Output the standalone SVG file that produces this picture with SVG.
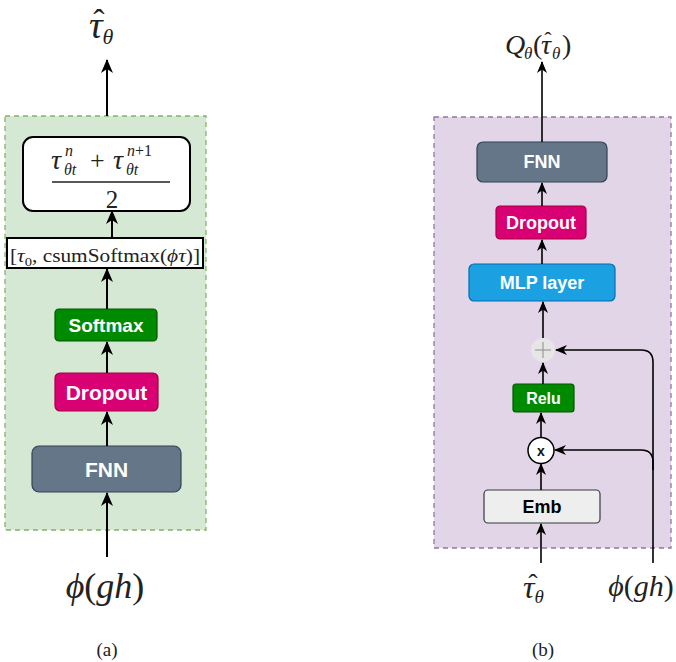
<svg xmlns="http://www.w3.org/2000/svg" width="676" height="662" viewBox="0 0 676 662">
<style>
.lbl{font-family:"Liberation Sans",Arial,sans-serif;font-weight:bold;fill:#ffffff;text-anchor:middle;dominant-baseline:central}
.m{font-family:"Liberation Serif","DejaVu Serif","Times New Roman",serif;font-style:italic;fill:#222}
.u{font-family:"Liberation Serif","DejaVu Serif","Times New Roman",serif;fill:#222}
.ln{stroke:#000;stroke-width:2;fill:none;marker-end:url(#ah)}
.ln2{stroke:#000;stroke-width:1.6;fill:none;marker-end:url(#ah2)}
</style>
<defs>
<marker id="ah" markerUnits="userSpaceOnUse" markerWidth="14" markerHeight="14" viewBox="0 0 14 14" refX="13" refY="7" orient="auto">
<path d="M0,1 L14,7 L0,13 L4,7 z" fill="#000"/>
</marker>
<marker id="ah2" markerUnits="userSpaceOnUse" markerWidth="12" markerHeight="12" viewBox="0 0 12 12" refX="11" refY="6" orient="auto">
<path d="M0,1 L12,6 L0,11 L3.5,6 z" fill="#000"/>
</marker>
</defs>

<!-- Panel (a) -->
<g id="containerA">
<rect x="5" y="116" width="201" height="414" fill="#d5e8d4" stroke="#82b366" stroke-width="1.3" stroke-dasharray="5,4"/>
</g>
<g id="titleA">
<text class="m" x="89" y="38" font-size="38">τ<tspan font-size="22" dy="6">θ</tspan></text>
<text class="u" x="99" y="33" font-size="34" text-anchor="middle">ˆ</text>
</g>
<g id="fraction">
<rect x="23" y="137" width="167" height="74" rx="10" fill="#ffffff" stroke="#000" stroke-width="2"/>
<text class="m" font-size="28"><tspan x="51" y="169">τ</tspan><tspan x="65" y="156" font-size="16">n</tspan><tspan x="64" y="175" font-size="16">θt</tspan><tspan class="u" font-style="normal" x="90" y="169" font-size="26">+</tspan><tspan x="113" y="169">τ</tspan><tspan x="127" y="156" font-size="16">n<tspan class="u" font-style="normal">+1</tspan></tspan><tspan x="126" y="175" font-size="16">θt</tspan></text>
<line x1="52" y1="182" x2="170" y2="182" stroke="#222" stroke-width="1.5"/>
<text class="u" x="112" y="208" font-size="25" text-anchor="middle">2</text>
</g>
<g id="bracket">
<rect x="7" y="238" width="196" height="30" fill="#ffffff" stroke="#000" stroke-width="2"/>
<text class="u" x="10" y="262" font-size="19" textLength="190" lengthAdjust="spacingAndGlyphs">[<tspan class="m">τ</tspan><tspan font-size="13" dy="4">0</tspan><tspan dy="-4">, csumSoftmax(</tspan><tspan class="m">ϕτ</tspan>)]</text>
</g>
<g id="softmaxA">
<rect x="55" y="309" width="102" height="32" rx="4" fill="#008a00" stroke="#005700" stroke-width="1.2"/>
<text class="lbl" x="106" y="325.5" font-size="19">Softmax</text>
</g>
<g id="dropoutA">
<rect x="55" y="373" width="103" height="38" rx="5" fill="#d80073" stroke="#a50040" stroke-width="1.2"/>
<text class="lbl" x="106.5" y="392.5" font-size="21">Dropout</text>
</g>
<g id="fnnA">
<rect x="32" y="446" width="149" height="46" rx="7" fill="#647687" stroke="#314354" stroke-width="1.2"/>
<text class="lbl" x="106.5" y="469" font-size="21">FNN</text>
</g>
<g id="inputA">
<text class="m" x="105" y="598" font-size="36" text-anchor="middle">ϕ<tspan class="u" font-style="normal">(</tspan>gh<tspan class="u" font-style="normal">)</tspan></text>
</g>
<text class="u" x="107" y="656" font-size="19" text-anchor="middle">(a)</text>

<!-- Panel (b) -->
<g id="containerB">
<rect x="434" y="117" width="237" height="431" fill="#e1d5e7" stroke="#9673a6" stroke-width="1.3" stroke-dasharray="5,4"/>
</g>
<g id="titleB">
<text class="m" font-size="28"><tspan x="505" y="54">Q</tspan><tspan x="524" y="59" font-size="17">θ</tspan><tspan class="u" font-style="normal" x="533" y="54">(</tspan><tspan x="541" y="54">τ</tspan><tspan x="552" y="59" font-size="17">θ</tspan><tspan class="u" font-style="normal" x="562" y="54">)</tspan></text>
<text class="u" x="548" y="47" font-size="22" text-anchor="middle">ˆ</text>
</g>
<g id="fnnB">
<rect x="477" y="142" width="130" height="40" rx="6" fill="#647687" stroke="#314354" stroke-width="1.2"/>
<text class="lbl" x="542" y="162" font-size="18">FNN</text>
</g>
<g id="dropoutB">
<rect x="496" y="206" width="90" height="33" rx="4" fill="#d80073" stroke="#a50040" stroke-width="1.2"/>
<text class="lbl" x="541" y="222.5" font-size="18">Dropout</text>
</g>
<g id="mlp">
<rect x="469" y="264" width="146" height="37" rx="5" fill="#1ba1e2" stroke="#006eaf" stroke-width="1.2"/>
<text class="lbl" x="542" y="282.5" font-size="18">MLP layer</text>
</g>
<g id="plus">
<circle cx="543" cy="350" r="12" fill="#e6e6e6"/>
<line x1="535" y1="350" x2="551" y2="350" stroke="#9a9a9a" stroke-width="1.2"/>
<line x1="543" y1="342" x2="543" y2="358" stroke="#9a9a9a" stroke-width="1.2"/>
</g>
<g id="relu">
<rect x="513" y="384" width="61" height="28" rx="3" fill="#008a00" stroke="#005700" stroke-width="1.2"/>
<text class="lbl" x="543.5" y="398" font-size="16">Relu</text>
</g>
<g id="mult">
<circle cx="541" cy="450.5" r="13" fill="#ffffff" stroke="#000" stroke-width="1.5"/>
<text x="541" y="451" font-size="14" font-family="Liberation Sans,Arial,sans-serif" font-weight="bold" text-anchor="middle" dominant-baseline="central" fill="#111">x</text>
</g>
<g id="emb">
<rect x="484" y="490" width="116" height="33" rx="4" fill="#eeeeee" stroke="#36393d" stroke-width="1.2"/>
<text x="542" y="506.5" font-size="18" font-family="Liberation Sans,Arial,sans-serif" font-weight="bold" text-anchor="middle" dominant-baseline="central" fill="#000">Emb</text>
</g>
<g id="inputB1">
<text class="m" x="523" y="598" font-size="32">τ<tspan font-size="19" dy="5">θ</tspan></text>
<text class="u" x="533" y="593" font-size="28" text-anchor="middle">ˆ</text>
</g>
<g id="inputB2">
<text class="m" x="641" y="596" font-size="30" text-anchor="middle">ϕ<tspan class="u" font-style="normal">(</tspan>gh<tspan class="u" font-style="normal">)</tspan></text>
</g>
<text class="u" x="543" y="656" font-size="19" text-anchor="middle">(b)</text>

<!-- Connectors -->
<g id="connectors">
<path class="ln" d="M107,557 L107,493"/>
<path class="ln" d="M107,446 L107,412"/>
<path class="ln" d="M107,373 L107,342"/>
<path class="ln" d="M107,309 L107,269"/>
<path class="ln" d="M112,238 L112,211"/>
<path class="ln" d="M107,116 L107,60"/>

<path class="ln2" d="M542,142 L542,62"/>
<path class="ln2" d="M542,206 L542,183"/>
<path class="ln2" d="M542,264 L542,240"/>
<path class="ln2" d="M543,338 L543,302"/>
<path class="ln2" d="M543,384 L543,363"/>
<path class="ln2" d="M541,437 L541,413"/>
<path class="ln2" d="M541,490 L541,464"/>
<path class="ln2" d="M541,563 L541,524"/>
<path class="ln2" d="M653,563 L653,362 Q653,350 641,350 L556,350"/>
<path class="ln2" d="M653,470 L653,462 Q653,450 641,450 L555,450"/>
</g>
</svg>
